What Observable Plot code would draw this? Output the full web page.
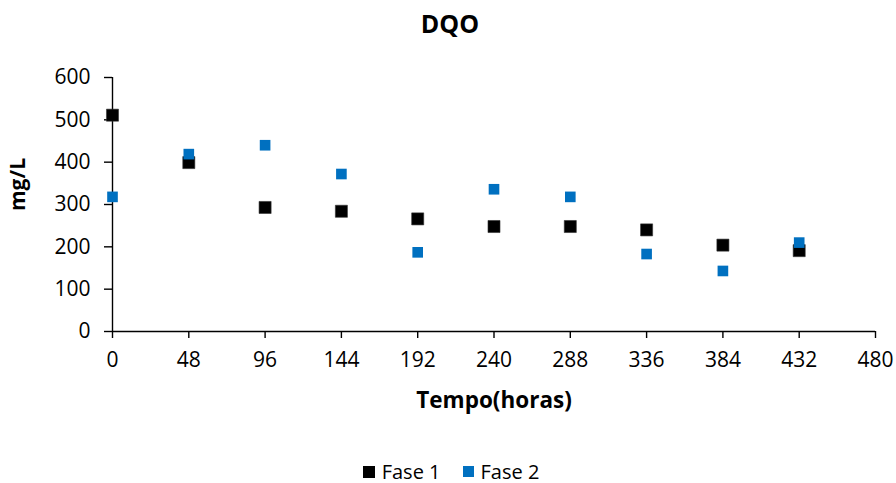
<!DOCTYPE html>
<html>
<head>
<meta charset="utf-8">
<script src="https://cdn.jsdelivr.net/npm/d3@7"></script>
<script src="https://cdn.jsdelivr.net/npm/@observablehq/plot@0.6"></script>
<style>
  html, body { margin: 0; padding: 0; background: #fff; }
  body { width: 896px; font-family: "Open Sans", sans-serif; color: #000; }
  #title { box-sizing: border-box; height: 50px; padding-top: 11px; padding-left: 4px; font-size: 25px; line-height: 25px; font-weight: bold; text-align: center; }
  #chart svg { display: block; }
  #legend { box-sizing: border-box; height: 48px; padding-top: 25px; font-size: 20px; line-height: 20px; display: flex; justify-content: center; align-items: center; padding-left: 6px; }
  .item { display: flex; align-items: center; }
  .sw { display: inline-block; margin-right: 7px; }
  .item + .item { margin-left: 22px; }
</style>
</head>
<body>
<div id="title">DQO</div>
<div id="chart"></div>
<div id="legend"></div>
<script>
const horas = [0, 48, 96, 144, 192, 240, 288, 336, 384, 432];
const fase1 = [511, 399, 293, 284, 266, 248, 248, 240, 204, 191];
const fase2 = [318, 419, 440, 372, 187, 336, 318, 183, 143, 210];
const xTicks = [0, 48, 96, 144, 192, 240, 288, 336, 384, 432, 480];
const yTicks = [0, 100, 200, 300, 400, 500, 600];
const seriesNames = ["Fase 1", "Fase 2"];
const seriesColors = ["#000000", "#0070C0"];

const d1 = horas.map((h, i) => ({h, v: fase1[i]}));
const d2 = horas.map((h, i) => ({h, v: fase2[i]}));

const plot = Plot.plot({
  width: 896,
  height: 385,
  marginTop: 27,
  marginBottom: 104,
  marginLeft: 112,
  marginRight: 21,
  style: {fontFamily: "Open Sans", fontSize: "21px", color: "#000", background: "#fff"},
  x: {domain: [0, 480]},
  y: {domain: [0, 600]},
  marks: [
    Plot.axisX({ticks: xTicks, tickSize: 7, tickPadding: 14, fontSize: 21, strokeWidth: 1.4, label: null}),
    Plot.axisY({ticks: yTicks, tickSize: 8, tickPadding: 14, fontSize: 21, strokeWidth: 1.4, label: null}),
    Plot.ruleY([0], {stroke: "#000", strokeWidth: 1.4}),
    Plot.ruleX([0], {stroke: "#000", strokeWidth: 1.4}),
    Plot.dot(d1, {x: "h", y: "v", symbol: "square", r: 6.8, fill: seriesColors[0], stroke: "#333", strokeWidth: 0.6}),
    Plot.dot(d2, {x: "h", y: "v", symbol: "square", r: 6.0, fill: seriesColors[1]}),
    Plot.text(["Tempo(horas)"], {frameAnchor: "bottom", lineAnchor: "bottom", dy: 76, fontSize: 22.5, fontWeight: "bold", fill: "#000"}),
    Plot.text(["mg/L"], {frameAnchor: "left", lineAnchor: "bottom", rotate: -90, dx: -88, dy: -20, fontSize: 21, fontWeight: "bold", fill: "#000", textAnchor: "middle"})
  ]
});
document.getElementById("chart").appendChild(plot);

const legend = document.getElementById("legend");
seriesNames.forEach((name, i) => {
  const item = document.createElement("span");
  item.className = "item";
  const sw = document.createElement("span");
  sw.className = "sw";
  const s = i === 0 ? 12 : 11;
  sw.style.width = s + "px";
  sw.style.height = s + "px";
  sw.style.background = seriesColors[i];
  item.appendChild(sw);
  item.appendChild(document.createTextNode(name));
  legend.appendChild(item);
});
</script>
</body>
</html>
